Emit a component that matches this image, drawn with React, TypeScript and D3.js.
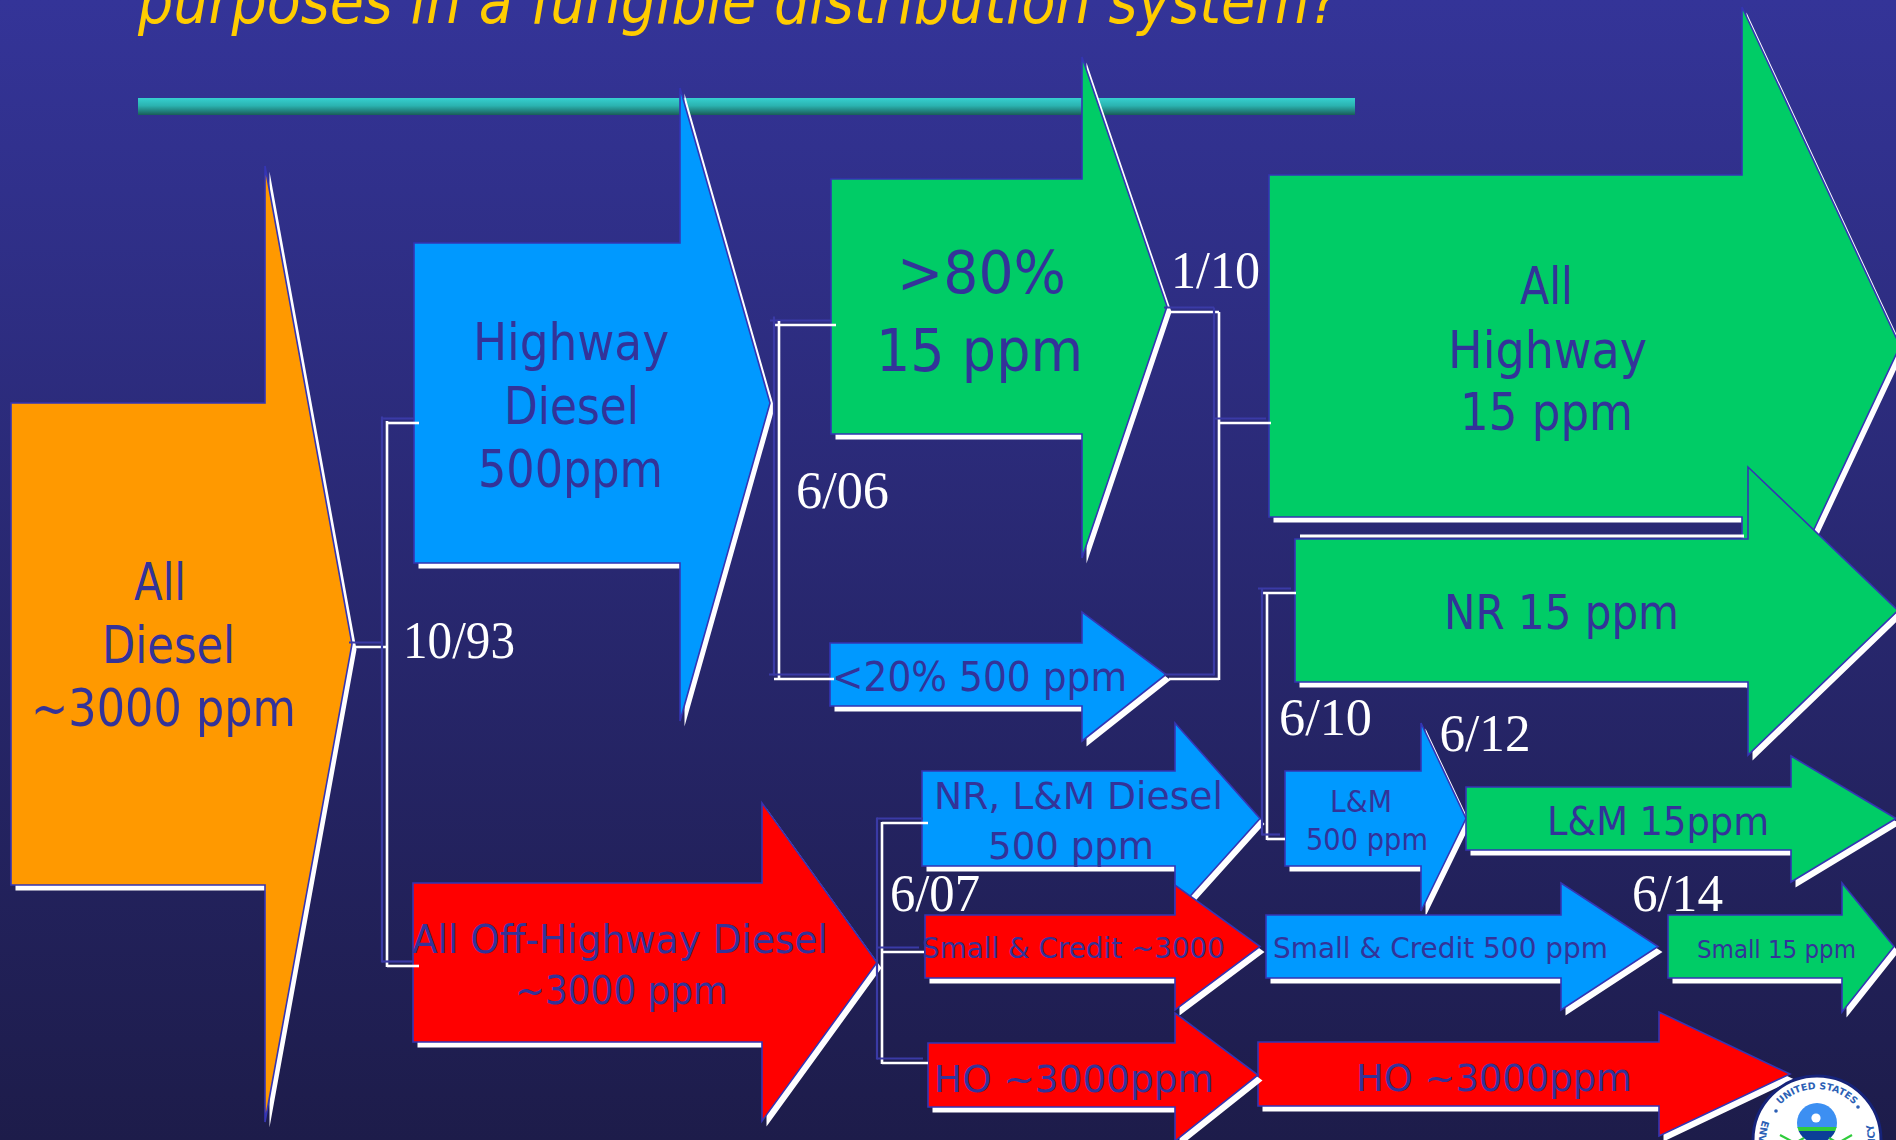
import React, { useEffect } from 'react';
import * as d3 from 'd3';

const WIDTH = 1896;
const HEIGHT = 1140;

const TITLE = 'purposes in a fungible distribution system?';

// Sulfur grades and the fill used for each
const grades = ['all', 'uncontrolled', 'lowSulfur', 'ultraLow'];
const gradeFills = ['#FF9900', '#FF0000', '#0099FF', '#00CC66'];

// Fuel pools, listed in paint order
const poolLabels = [
  ['All', 'Diesel', '~3000 ppm'],
  ['Highway', 'Diesel', '500ppm'],
  ['>80%', '15 ppm'],
  ['<20% 500 ppm'],
  ['All', 'Highway', '15 ppm'],
  ['NR 15 ppm'],
  ['L&M', '500 ppm'],
  ['L&M 15ppm'],
  ['Small & Credit 500 ppm'],
  ['Small 15 ppm'],
  ['HO ~3000ppm'],
  ['All Off-Highway Diesel', '~3000 ppm'],
  ['NR, L&M Diesel', '500 ppm'],
  ['Small & Credit ~3000'],
  ['HO ~3000ppm'],
];
const poolGrades = [
  'all', 'lowSulfur', 'ultraLow', 'lowSulfur', 'ultraLow', 'ultraLow', 'lowSulfur',
  'ultraLow', 'lowSulfur', 'ultraLow', 'uncontrolled', 'uncontrolled', 'lowSulfur',
  'uncontrolled', 'uncontrolled',
];

// Effective dates of each split
const splitDates = ['10/93', '6/06', '1/10', '6/07', '6/10', '6/12', '6/14'];

// ---- layout (pixels) ----
// arrow outline: body left, body top, body bottom, head start, head top, head bottom, tip x
const arrowShapes = [
  [11, 403, 885, 265, 166, 1122, 352],
  [414, 243, 563, 680, 88, 721, 770],
  [831, 179, 434, 1082, 57, 558, 1167],
  [830, 643, 706, 1082, 612, 741, 1166],
  [1269, 175, 517, 1742, 7, 683, 1900],
  [1295, 539, 682, 1748, 467, 755, 1898],
  [1285, 771, 866, 1421, 723, 911, 1466],
  [1466, 787, 850, 1791, 756, 882, 1896],
  [1266, 915, 978, 1561, 883, 1010, 1658],
  [1668, 915, 978, 1842, 883, 1012, 1894],
  [1258, 1042, 1106, 1659, 1012, 1136, 1790],
  [413, 883, 1042, 762, 803, 1121, 877],
  [922, 771, 866, 1175, 723, 913, 1260],
  [925, 915, 978, 1175, 885, 1010, 1260],
  [928, 1043, 1107, 1175, 1013, 1141, 1258],
];

// label font size and per-line [left, baseline, width]
const labelBoxes = [
  { size: 52, lines: [[134, 600, 52], [102, 663, 133], [31, 726, 265]] },
  { size: 52, lines: [[473, 360, 196], [504, 423.6, 135], [478, 487, 185]] },
  { size: 59, lines: [[897, 293, 169], [876, 371, 207]] },
  { size: 41, lines: [[832, 691, 295]] },
  { size: 51, lines: [[1520, 303.5, 53], [1448, 368, 199], [1460, 430, 173]] },
  { size: 48, lines: [[1444, 629, 235]] },
  { size: 31, lines: [[1330, 811.7, 62], [1306, 850, 122]] },
  { size: 39, lines: [[1547, 835, 222]] },
  { size: 29, lines: [[1273, 958, 335]] },
  { size: 24, lines: [[1697, 958, 159]] },
  { size: 38, lines: [[1356, 1090.7, 276]] },
  { size: 39, lines: [[412, 953, 416], [515, 1004, 213]] },
  { size: 37, lines: [[934, 809, 289], [988, 859, 166]] },
  { size: 29, lines: [[922, 958, 303]] },
  { size: 38, lines: [[934, 1091.7, 280]] },
];

// date labels: left, baseline, width
const dateBoxes = [
  [403, 658, 112], [796, 507.5, 93], [1171, 287.6, 89], [890, 910.7, 90],
  [1279, 735, 93], [1439.5, 750.7, 91], [1632, 910.7, 91],
];

// bracket connectors (white stroke; dark copy sits up-left of it)
const bracketSegments = [
  [354, 647, 387, 647], [387, 423, 419, 423], [387, 421, 387, 967], [387, 966, 419, 966],
  [775, 325, 836, 325], [779, 321, 779, 680], [774, 679, 834, 679],
  [1169, 312, 1219, 312], [1219, 312, 1219, 680], [1169, 679, 1219, 679], [1219, 423, 1271, 423],
  [1263, 593, 1296, 593], [1267, 593, 1267, 840], [1267, 839, 1285, 839],
  [882, 823, 928, 823], [882, 822, 882, 1064], [882, 952, 924, 952], [882, 1063, 928, 1063],
];
const highlightSegments = [[1300, 536, 1744, 536]];

const SHADOW_DX = 4.5;
const SHADOW_DY = 5.5;
const LINE_DX = 5;
const LINE_DY = 4.5;
const INK = '#333399';
const EDGE = '#3535b4';

const fillFor = d3.scaleOrdinal<string, string>().domain(grades).range(gradeFills);

function arrowPath(s: number[]) {
  const [x0, y0, y1, hx, hy0, hy1, tx] = s;
  const ty = (y0 + y1) / 2;
  const p = d3.path();
  p.moveTo(x0, y0);
  p.lineTo(hx, y0);
  p.lineTo(hx, hy0);
  p.lineTo(tx, ty);
  p.lineTo(hx, hy1);
  p.lineTo(hx, y1);
  p.lineTo(x0, y1);
  p.closePath();
  return p.toString();
}

const seg = d3.line();

function Seal() {
  const rTop = 51;
  const rBot = 58;
  const a0 = (160 * Math.PI) / 180;
  const topArc = `M ${-rTop} 0 A ${rTop} ${rTop} 0 0 1 ${rTop} 0`;
  const botArc = `M ${rBot * Math.cos(a0)} ${-rBot * Math.sin(a0)} A ${rBot} ${rBot} 0 1 0 ${-rBot * Math.cos(a0)} ${-rBot * Math.sin(a0)}`;
  return (
    <g transform="translate(1817,1140)">
      <circle r={64} fill="#ffffff" stroke="#16237a" strokeWidth={3} />
      <path id="sealTop" d={topArc} fill="none" />
      <path id="sealBottom" d={botArc} fill="none" />
      <text fontFamily="DejaVu Sans" fontWeight="bold" fontSize={9.5} fill="#2c5fb5">
        <textPath href="#sealTop" startOffset="50%" textAnchor="middle">UNITED STATES</textPath>
      </text>
      <text fontFamily="DejaVu Sans" fontWeight="bold" fontSize={10} fill="#2c5fb5">
        <textPath href="#sealBottom" textLength={218} lengthAdjust="spacingAndGlyphs">
          ENVIRONMENTAL PROTECTION AGENCY
        </textPath>
      </text>
      <circle cx={-41} cy={-29} r={1.8} fill="#2c5fb5" />
      <circle cx={41} cy={-33} r={1.8} fill="#2c5fb5" />
      <clipPath id="sealInner">
        <circle cx={0} cy={-17} r={20} />
      </clipPath>
      <g clipPath="url(#sealInner)">
        <rect x={-21} y={-38} width={42} height={26} fill="#3c8ff2" />
        <rect x={-21} y={-13} width={42} height={4} fill="#2fcc3c" />
        <rect x={-21} y={-9} width={42} height={14} fill="#0b3f98" />
      </g>
      <circle cx={-1} cy={-22} r={4.6} fill="#ffffff" />
      <path d="M -37 -5 L -22 3 L -13 -2 M 35 -5 L 21 3 L 12 -2" fill="none" stroke="#2fcc3c" strokeWidth={2.2} />
    </g>
  );
}

export default function App() {
  useEffect(() => {
    document.body.style.margin = '0';
    document.body.style.overflow = 'hidden';
  }, []);

  return (
    <svg
      width={WIDTH}
      height={HEIGHT}
      viewBox={`0 0 ${WIDTH} ${HEIGHT}`}
      style={{ position: 'absolute', left: 0, top: 0, display: 'block' }}
    >
      <defs>
        <linearGradient id="bg" x1="0" y1="0" x2="0" y2="1">
          <stop offset="0%" stopColor="#343498" />
          <stop offset="100%" stopColor="#1d1c4a" />
        </linearGradient>
        <linearGradient id="rule" x1="0" y1="0" x2="0" y2="1">
          <stop offset="0%" stopColor="#36d0d0" />
          <stop offset="45%" stopColor="#2bb3b0" />
          <stop offset="100%" stopColor="#195e58" />
        </linearGradient>
      </defs>

      <rect x={0} y={0} width={WIDTH} height={HEIGHT} fill="url(#bg)" />

      <text
        x={138}
        y={23}
        fontFamily="DejaVu Sans"
        fontStyle="italic"
        fontSize={63}
        fill="#FFCC00"
        textLength={1201}
        lengthAdjust="spacingAndGlyphs"
      >
        {TITLE}
      </text>

      <rect x={138} y={98} width={1217} height={17} fill="url(#rule)" />

      {arrowShapes.map((s, i) => {
        const d = arrowPath(s);
        return (
          <g key={`arrow-${i}`}>
            <path d={d} fill="#ffffff" transform={`translate(${SHADOW_DX},${SHADOW_DY})`} />
            <path d={d} fill={fillFor(poolGrades[i])} stroke={EDGE} strokeWidth={1.6} strokeLinejoin="miter" />
          </g>
        );
      })}

      {highlightSegments.map((s, i) => (
        <path
          key={`hl-${i}`}
          d={seg([[s[0], s[1]], [s[2], s[3]]]) || ''}
          stroke="#ffffff"
          strokeWidth={3}
          fill="none"
        />
      ))}

      {bracketSegments.map((s, i) => {
        const d = seg([[s[0], s[1]], [s[2], s[3]]]) || '';
        return (
          <g key={`br-${i}`}>
            <path d={d} stroke="#3a3aa6" strokeWidth={2.2} fill="none" transform={`translate(${-LINE_DX},${-LINE_DY})`} />
            <path d={d} stroke="#ffffff" strokeWidth={2.6} fill="none" />
          </g>
        );
      })}

      {poolLabels.map((lines, i) => (
        <g key={`lbl-${i}`} fontFamily="DejaVu Sans, Verdana, sans-serif" fontSize={labelBoxes[i].size} fill={INK}>
          {lines.map((t, j) => {
            const [x, y, w] = labelBoxes[i].lines[j];
            return (
              <text key={j} x={x} y={y} textLength={w} lengthAdjust="spacingAndGlyphs">
                {t}
              </text>
            );
          })}
        </g>
      ))}

      {splitDates.map((t, i) => {
        const [x, y, w] = dateBoxes[i];
        return (
          <text
            key={`date-${i}`}
            x={x}
            y={y}
            fontFamily="Liberation Serif, Times New Roman, serif"
            fontSize={52}
            fill="#ffffff"
            textLength={w}
            lengthAdjust="spacingAndGlyphs"
          >
            {t}
          </text>
        );
      })}

      <Seal />
    </svg>
  );
}
